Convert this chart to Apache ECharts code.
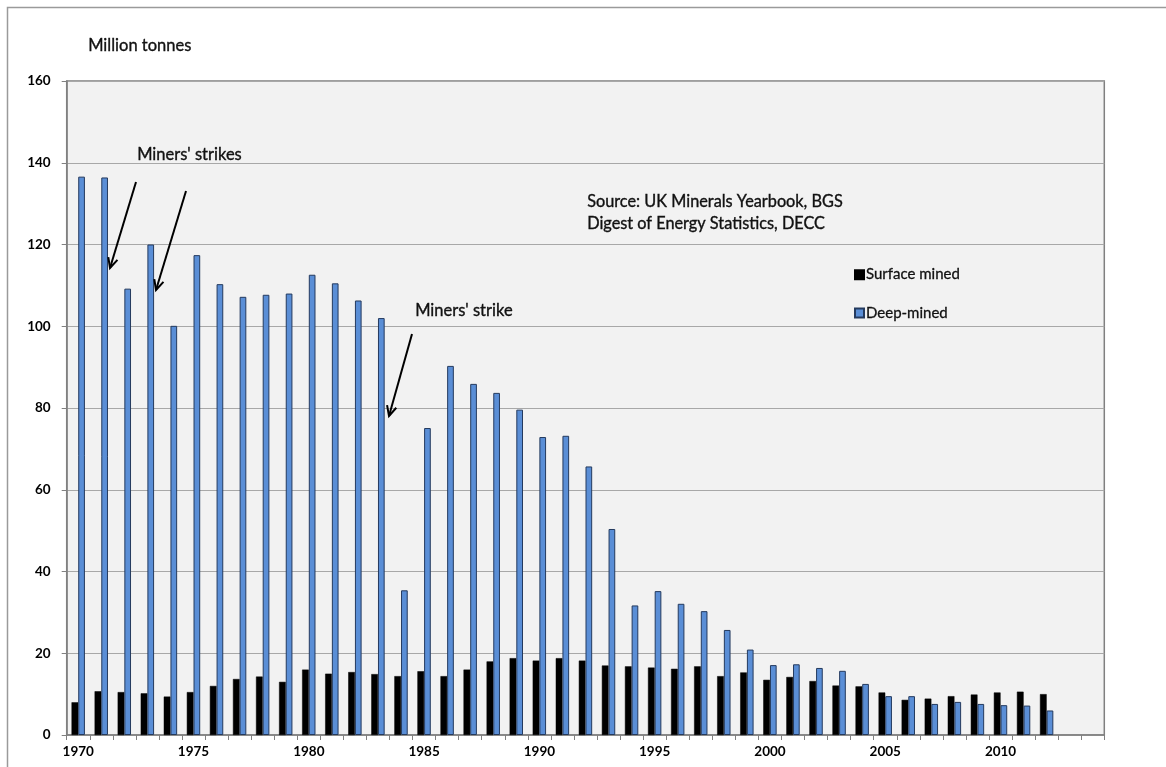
<!DOCTYPE html>
<html>
<head>
<meta charset="utf-8">
<script src="https://cdn.jsdelivr.net/npm/echarts@6/dist/echarts.min.js"></script>
<style>
html,body{margin:0;padding:0;background:#fff;}
#c{width:1166px;height:767px;}
</style>
</head>
<body>
<div id="c"></div>
<script>
var years = [];
for (var y = 1970; y <= 2014; y++) years.push(String(y));

var surfaceMined = [8.0, 10.7, 10.5, 10.2, 9.4, 10.5, 12.0, 13.7, 14.3, 13.0,
  16.0, 15.0, 15.4, 14.9, 14.4, 15.6, 14.4, 16.0, 18.0, 18.8,
  18.2, 18.8, 18.2, 17.0, 16.8, 16.5, 16.2, 16.8, 14.4, 15.3,
  13.5, 14.2, 13.2, 12.1, 11.9, 10.4, 8.6, 8.9, 9.5, 9.9,
  10.4, 10.6, 10.0, null, null];

var deepMined = [136.6, 136.4, 109.2, 120.0, 100.1, 117.4, 110.3, 107.2, 107.7, 108.0,
  112.6, 110.5, 106.3, 102.0, 35.4, 75.1, 90.3, 85.9, 83.7, 79.6,
  72.9, 73.2, 65.7, 50.4, 31.7, 35.2, 32.1, 30.3, 25.7, 20.9,
  17.1, 17.3, 16.4, 15.7, 12.5, 9.5, 9.5, 7.6, 8.1, 7.6,
  7.3, 7.2, 6.0, null, null];

var seriesNames = ['Surface mined', 'Deep-mined'];
var yTicks = { min: 0, max: 160, interval: 20 };

var FONT = 'Lato, "Open Sans", sans-serif';

function arrow(x1, y1, x2, y2) {
  var ang = Math.atan2(y2 - y1, x2 - x1);
  var L = 11, a = 0.45;
  var p1 = [x2 - L * Math.cos(ang - a), y2 - L * Math.sin(ang - a)];
  var p2 = [x2 - L * Math.cos(ang + a), y2 - L * Math.sin(ang + a)];
  return [
    { type: 'line', shape: { x1: x1, y1: y1, x2: x2, y2: y2 }, style: { stroke: '#000', lineWidth: 2 }, z: 50 },
    { type: 'polyline', shape: { points: [p1, [x2, y2], p2] }, style: { stroke: '#000', lineWidth: 2, fill: null }, z: 50 }
  ];
}

function txt(x, y, s, size, lh) {
  return { type: 'text', left: x, top: y, z: 50,
    style: { text: s, font: size + 'px ' + FONT, fill: '#111', lineHeight: lh || size,
      stroke: '#111', lineWidth: 0.35 } };
}

var graphics = [
  { type: 'rect', shape: { x: 7.5, y: 7.5, width: 1170, height: 800 }, style: { stroke: '#9a9a9a', lineWidth: 1.5, fill: null }, z: 0, silent: true },
  txt(88, 37, 'Million tonnes', 16.5),
  txt(137, 146, "Miners' strikes", 16.5),
  txt(415, 302, "Miners' strike", 16.5),
  txt(587, 191, 'Source: UK Minerals Yearbook, BGS\nDigest of Energy Statistics, DECC', 16.3, 22)
];
graphics = graphics.concat(arrow(136, 182, 110, 268));
graphics = graphics.concat(arrow(186, 191, 156, 290));
graphics = graphics.concat(arrow(412, 334, 389, 416));

var chart = echarts.init(document.getElementById('c'), null, { renderer: 'canvas' });
chart.setOption({
  backgroundColor: '#fff',
  animation: false,
  textStyle: { fontFamily: FONT },
  grid: {
    left: 66.7, right: 61.7, top: 81, bottom: 32,
    show: true, backgroundColor: '#f2f2f2', borderColor: '#808080', borderWidth: 1.5
  },
  legend: {
    orient: 'vertical', left: 849, top: 262, itemGap: 23,
    itemWidth: 9, itemHeight: 9, icon: 'rect',
    data: seriesNames,
    textStyle: { fontFamily: FONT, fontSize: 15, color: '#111', padding: [0, 0, 0, -3],
      textBorderColor: '#111', textBorderWidth: 0.3 }
  },
  xAxis: {
    type: 'category', data: years, boundaryGap: true,
    axisLine: { show: true, lineStyle: { color: '#808080', width: 1.5 } },
    axisTick: { show: true, interval: 0, length: 5, lineStyle: { color: '#808080' } },
    axisLabel: { interval: 4, color: '#000', fontSize: 13.5, fontWeight: 'bold', margin: 10, fontFamily: FONT },
    splitLine: { show: false }
  },
  yAxis: {
    type: 'value', min: yTicks.min, max: yTicks.max, interval: yTicks.interval,
    axisLine: { show: true, lineStyle: { color: '#808080', width: 1.5 } },
    axisTick: { show: true, length: 5, lineStyle: { color: '#808080' } },
    axisLabel: { color: '#000', fontSize: 13.5, fontWeight: 'bold', margin: 16, fontFamily: FONT },
    splitLine: { show: true, lineStyle: { color: '#a8a8a8', width: 1.2 } }
  },
  series: [
    {
      name: seriesNames[0], type: 'bar', data: surfaceMined,
      barGap: '0%', barCategoryGap: '42%',
      itemStyle: { color: '#000000', borderColor: '#000', borderWidth: 0.5 }
    },
    {
      name: seriesNames[1], type: 'bar', data: deepMined,
      barGap: '0%', barCategoryGap: '42%',
      itemStyle: { color: '#5a8ed6', borderColor: '#243a5e', borderWidth: 1 }
    }
  ],
  graphic: graphics
});
</script>
</body>
</html>
